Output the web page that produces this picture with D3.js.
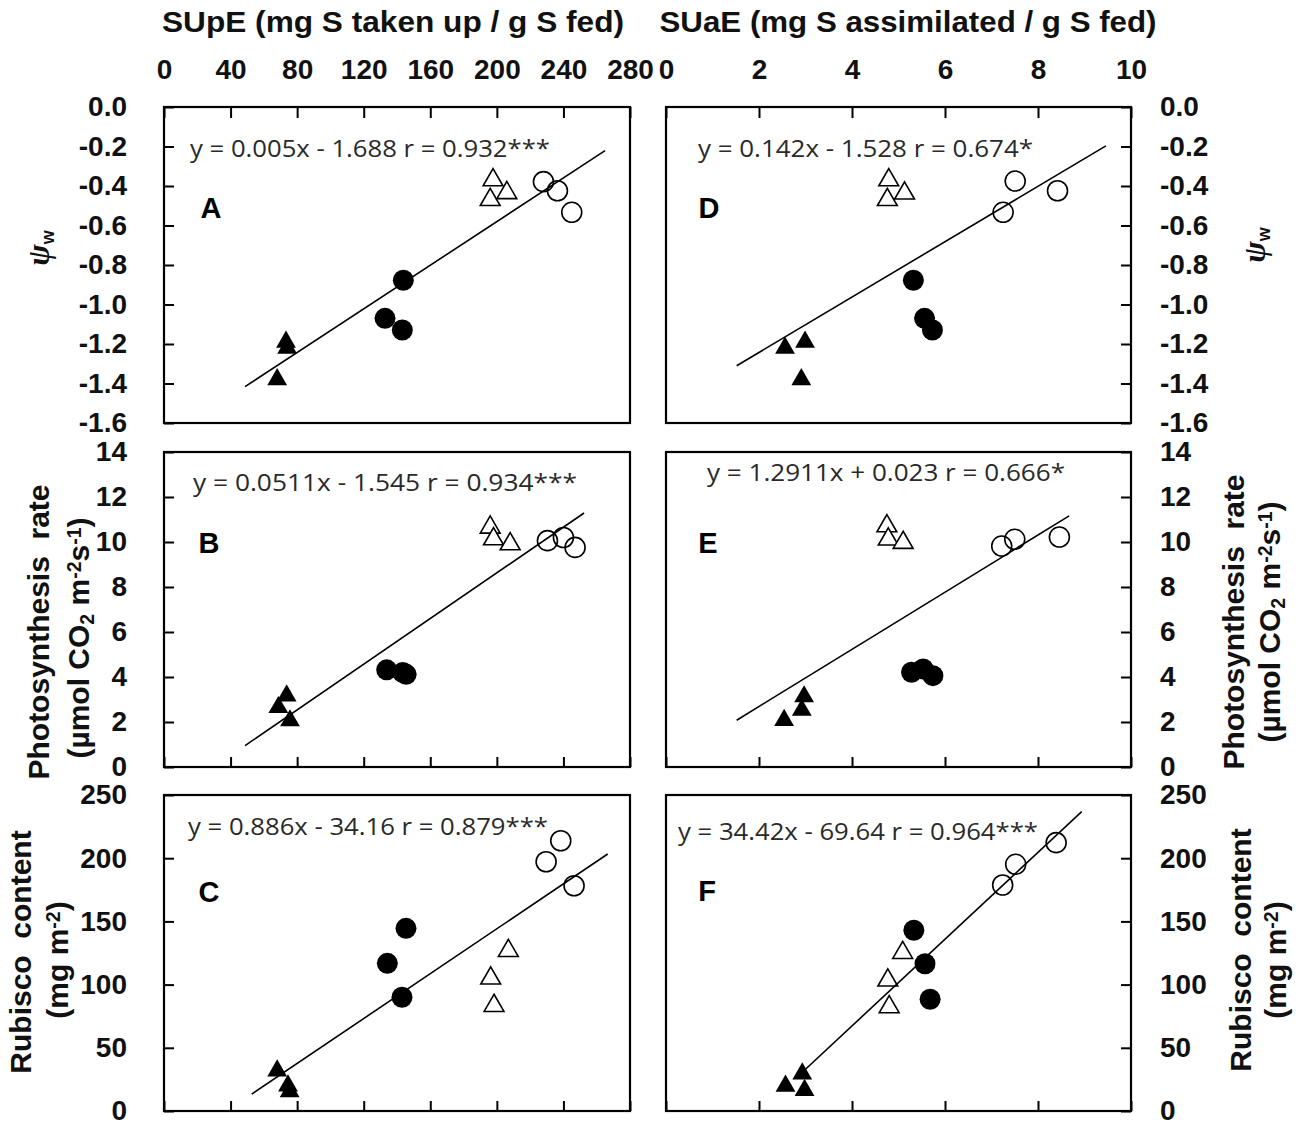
<!DOCTYPE html>
<html><head><meta charset="utf-8">
<script src="https://cdn.jsdelivr.net/npm/d3@7"></script>
<style>body{margin:0;background:#fff} svg{display:block}</style>
</head><body>
<svg id="chart" width="1300" height="1127"></svg>
<script>
// ---------- tick values / labels ----------
const supeTicks = [0, 40, 80, 120, 160, 200, 240, 280];
const suaeTicks = [0, 2, 4, 6, 8, 10];
const psiTicks = [0, -0.2, -0.4, -0.6, -0.8, -1.0, -1.2, -1.4, -1.6];
const psiLabels = ["0.0", "-0.2", "-0.4", "-0.6", "-0.8", "-1.0", "-1.2", "-1.4", "-1.6"];
const photoTicks = [0, 2, 4, 6, 8, 10, 12, 14];
const rubiscoTicks = [0, 50, 100, 150, 200, 250];

// ---------- panel data: [x, y] ----------
// A: SUpE vs Ψw
const A_solidTri = [[73.3, -1.19], [74, -1.22], [68, -1.38]];
const A_solidCirc = [[143.8, -0.877], [132.8, -1.07], [143.2, -1.129]];
const A_openTri = [[197.7, -0.37], [196, -0.47], [206, -0.435]];
const A_openCirc = [[228, -0.378], [236.4, -0.424], [245, -0.533]];
const A_line = [[48.7, -1.416], [265, -0.221]];
// B: SUpE vs photosynthesis
const B_solidTri = [[73.7, 3.17], [68.7, 2.65], [75.7, 2.06]];
const B_solidCirc = [[133.8, 4.32], [143.5, 4.2], [145.5, 4.12]];
const B_openTri = [[196, 10.65], [198, 10.13], [208, 9.91]];
const B_openCirc = [[230.4, 10.06], [240, 10.2], [247, 9.76]];
const B_line = [[48.7, 0.95], [252.4, 11.29]];
// C: SUpE vs Rubisco
const C_solidTri = [[68, 31.9], [74.5, 20], [75.5, 15.5]];
const C_solidCirc = [[145.4, 144.5], [134.2, 116.8], [143, 90]];
const C_openTri = [[206.9, 126.8], [196.3, 105], [198.3, 83.3]];
const C_openCirc = [[238.4, 213.8], [229.6, 197.2], [246.4, 178.2]];
const C_line = [[52.7, 13.4], [266.6, 203.3]];
// D: SUaE vs Ψw
const D_solidTri = [[2.56, -1.22], [2.99, -1.19], [2.91, -1.38]];
const D_solidCirc = [[5.32, -0.877], [5.56, -1.07], [5.73, -1.129]];
const D_openTri = [[4.79, -0.37], [4.76, -0.47], [5.13, -0.437]];
const D_openCirc = [[7.51, -0.375], [8.42, -0.424], [7.25, -0.533]];
const D_line = [[1.52, -1.31], [9.46, -0.197]];
// E: SUaE vs photosynthesis
const E_solidTri = [[2.97, 3.13], [2.92, 2.53], [2.54, 2.08]];
const E_solidCirc = [[5.28, 4.21], [5.53, 4.36], [5.74, 4.06]];
const E_openTri = [[4.75, 10.71], [4.78, 10.12], [5.1, 9.97]];
const E_openCirc = [[7.22, 9.82], [7.5, 10.12], [8.46, 10.22]];
const E_line = [[1.52, 2.08], [8.67, 11.16]];
// F: SUaE vs Rubisco
const F_solidTri = [[2.93, 29.5], [2.57, 19.8], [2.98, 16.4]];
const F_solidCirc = [[5.33, 143], [5.57, 116.5], [5.68, 88.4]];
const F_openTri = [[5.09, 125.2], [4.77, 103.4], [4.8, 82.3]];
const F_openCirc = [[8.39, 212.3], [7.52, 195.2], [7.24, 178.8]];
const F_line = [[3.0, 33], [8.94, 236.8]];

const equations = {
  A: "y = 0.005x - 1.688 r = 0.932***",
  B: "y = 0.0511x - 1.545  r = 0.934***",
  C: "y = 0.886x - 34.16 r = 0.879***",
  D: "y = 0.142x - 1.528 r = 0.674*",
  E: "y = 1.2911x + 0.023 r = 0.666*",
  F: "y = 34.42x - 69.64 r = 0.964***"
};

// ---------- layout ----------
const svg = d3.select("#chart");
const cols = [[164, 630], [666, 1131]];
const rows = [[107, 423], [452, 767], [795, 1111]];
const xSupe = d3.scaleLinear().domain([0, 280]).range(cols[0]);
const xSuae = d3.scaleLinear().domain([0, 10]).range(cols[1]);
const yPsi = d3.scaleLinear().domain([-1.6, 0]).range([rows[0][1], rows[0][0]]);
const yPhoto = d3.scaleLinear().domain([0, 14]).range([rows[1][1], rows[1][0]]);
const yRub = d3.scaleLinear().domain([0, 250]).range([rows[2][1], rows[2][0]]);

const TICKFONT = "'Liberation Sans', Arial, sans-serif";
const EQFONT = "'Open Sans', 'Noto Sans', sans-serif";

const panels = [
  {id: "A", col: 0, row: 0, x: xSupe, y: yPsi, xt: supeTicks, yt: psiTicks, yl: psiLabels,
   st: A_solidTri, sc: A_solidCirc, ot: A_openTri, oc: A_openCirc, line: A_line,
   eq: [190, 149, 360], letter: [211, 208]},
  {id: "B", col: 0, row: 1, x: xSupe, y: yPhoto, xt: supeTicks, yt: photoTicks, yl: photoTicks.map(String),
   st: B_solidTri, sc: B_solidCirc, ot: B_openTri, oc: B_openCirc, line: B_line,
   eq: [193, 483, 384], letter: [209, 543]},
  {id: "C", col: 0, row: 2, x: xSupe, y: yRub, xt: supeTicks, yt: rubiscoTicks, yl: rubiscoTicks.map(String),
   st: C_solidTri, sc: C_solidCirc, ot: C_openTri, oc: C_openCirc, line: C_line,
   eq: [188, 827, 360], letter: [209, 892]},
  {id: "D", col: 1, row: 0, x: xSuae, y: yPsi, xt: suaeTicks, yt: psiTicks, yl: psiLabels,
   st: D_solidTri, sc: D_solidCirc, ot: D_openTri, oc: D_openCirc, line: D_line,
   eq: [698, 149, 335], letter: [709, 208]},
  {id: "E", col: 1, row: 1, x: xSuae, y: yPhoto, xt: suaeTicks, yt: photoTicks, yl: photoTicks.map(String),
   st: E_solidTri, sc: E_solidCirc, ot: E_openTri, oc: E_openCirc, line: E_line,
   eq: [707, 473, 358], letter: [708, 543]},
  {id: "F", col: 1, row: 2, x: xSuae, y: yRub, xt: suaeTicks, yt: rubiscoTicks, yl: rubiscoTicks.map(String),
   st: F_solidTri, sc: F_solidCirc, ot: F_openTri, oc: F_openCirc, line: F_line,
   eq: [678, 832, 360], letter: [707, 891]}
];

const tri = d3.symbol().type(d3.symbolTriangle).size(170)();

function styleAxis(g, fs) {
  g.select(".domain").remove();
  g.selectAll(".tick line").attr("stroke", "#000").attr("stroke-width", 2);
  g.selectAll(".tick text").attr("fill", "#111").style("font-family", TICKFONT)
    .style("font-weight", "bold").style("font-size", fs + "px");
}

panels.forEach(p => {
  const g = svg.append("g");
  const [x0, x1] = p.x.range();
  const [yb, yt] = p.y.range();

  // y axis
  if (p.col === 0) {
    const ax = d3.axisLeft(p.y).tickValues(p.yt).tickSize(-10).tickPadding(37)
      .tickFormat((d, i) => p.yl[i]);
    styleAxis(g.append("g").attr("transform", `translate(${x0},0)`).call(ax), 28);
  } else {
    const ax = d3.axisRight(p.y).tickValues(p.yt).tickSize(-10).tickPadding(29)
      .tickFormat((d, i) => p.yl[i]);
    styleAxis(g.append("g").attr("transform", `translate(${x1},0)`).call(ax), 28);
  }
  // x axis
  if (p.row === 0) {
    const ax = d3.axisTop(p.x).tickValues(p.xt).tickSize(-11).tickPadding(28).tickFormat(d => String(d));
    styleAxis(g.append("g").attr("transform", `translate(0,${yt})`).call(ax), 28);
  } else {
    const ax = d3.axisBottom(p.x).tickValues(p.xt).tickSize(-10).tickFormat("");
    styleAxis(g.append("g").attr("transform", `translate(0,${yb})`).call(ax), 28);
  }

  // markers
  g.selectAll(".st").data(p.st).join("path")
    .attr("d", tri).attr("transform", d => `translate(${p.x(d[0])},${p.y(d[1])})`)
    .attr("fill", "#000");
  g.selectAll(".sc").data(p.sc).join("circle")
    .attr("cx", d => p.x(d[0])).attr("cy", d => p.y(d[1])).attr("r", 10.5).attr("fill", "#000");
  g.selectAll(".ot").data(p.ot).join("path")
    .attr("d", tri).attr("transform", d => `translate(${p.x(d[0])},${p.y(d[1])})`)
    .attr("fill", "#fff").attr("stroke", "#000").attr("stroke-width", 1.6);
  g.selectAll(".oc").data(p.oc).join("circle")
    .attr("cx", d => p.x(d[0])).attr("cy", d => p.y(d[1])).attr("r", 10)
    .attr("fill", "none").attr("stroke", "#000").attr("stroke-width", 1.6);

  // regression line
  g.append("path").datum(p.line)
    .attr("d", d3.line().x(d => p.x(d[0])).y(d => p.y(d[1])))
    .attr("stroke", "#000").attr("stroke-width", 1.6).attr("fill", "none");

  // frame
  g.append("rect").attr("x", x0).attr("y", yt).attr("width", x1 - x0).attr("height", yb - yt)
    .attr("fill", "none").attr("stroke", "#000").attr("stroke-width", 2.2);

  // equation
  g.append("text").attr("x", p.eq[0]).attr("y", p.eq[1]).attr("dy", "0.35em")
    .attr("textLength", p.eq[2]).attr("lengthAdjust", "spacingAndGlyphs")
    .style("font-family", EQFONT).style("font-size", "23px").attr("fill", "#2a2a2a")
    .text(equations[p.id]);

  // panel letter
  g.append("text").attr("x", p.letter[0]).attr("y", p.letter[1]).attr("dy", "0.36em")
    .attr("text-anchor", "middle").style("font-family", TICKFONT).style("font-weight", "bold")
    .style("font-size", "29px").attr("fill", "#000").text(p.id);
});

// ---------- axis titles ----------
const TF = "'Liberation Sans', Arial, sans-serif";
function topTitle(cx, txt, len) {
  svg.append("text").attr("x", cx).attr("y", 32).attr("text-anchor", "middle")
    .attr("textLength", len).attr("lengthAdjust", "spacingAndGlyphs")
    .style("font-family", TF).style("font-weight", "bold").style("font-size", "29px")
    .attr("fill", "#111").text(txt);
}
topTitle(393, "SUpE (mg S taken up / g S fed)", 462);
topTitle(908, "SUaE (mg S assimilated / g S fed)", 497);

function vText(x, y, parts, fs) {
  const t = svg.append("text").attr("transform", `translate(${x},${y}) rotate(-90)`)
    .attr("text-anchor", "middle").style("font-family", TF).style("font-weight", "bold")
    .style("font-size", fs + "px").attr("fill", "#111");
  parts.forEach(pt => {
    const s = t.append("tspan").text(pt.t);
    if (pt.sub) s.attr("baseline-shift", "-25%").style("font-size", (fs * 0.65) + "px");
    if (pt.sup) s.attr("baseline-shift", "40%").style("font-size", (fs * 0.65) + "px");
  });
  return t;
}
function psi(x, y) {
  const t = svg.append("text").attr("transform", `translate(${x},${y}) rotate(-90)`)
    .attr("text-anchor", "middle").attr("fill", "#111");
  t.append("tspan").text("\u03C8").style("font-family", "'Liberation Serif', 'DejaVu Serif', serif")
    .style("font-style", "italic").style("font-weight", "bold").style("font-size", "32px");
  t.append("tspan").text("w").attr("baseline-shift", "-30%")
    .style("font-family", TF).style("font-weight", "bold").style("font-size", "18px");
}
psi(49, 248);
psi(1265, 245);

const photo1 = [{t: "Photosynthesis\u00A0\u00A0rate"}];
const photo2 = [{t: "(\u00B5mol CO"}, {t: "2", sub: true}, {t: " m"}, {t: "-2", sup: true}, {t: "s"}, {t: "-1", sup: true}, {t: ")"}];
const rub1 = [{t: "Rubisco\u00A0\u00A0content"}];
const rub2 = [{t: "(mg m"}, {t: "-2", sup: true}, {t: ")"}];

vText(49, 632, photo1, 30);
vText(89, 638, photo2, 30);
vText(1244, 622, photo1, 30);
vText(1280, 622, photo2, 30);
vText(31, 952, rub1, 30);
vText(68, 960, rub2, 30);
vText(1251, 950, rub1, 30);
vText(1286, 960, rub2, 30);
</script>
</body></html>
